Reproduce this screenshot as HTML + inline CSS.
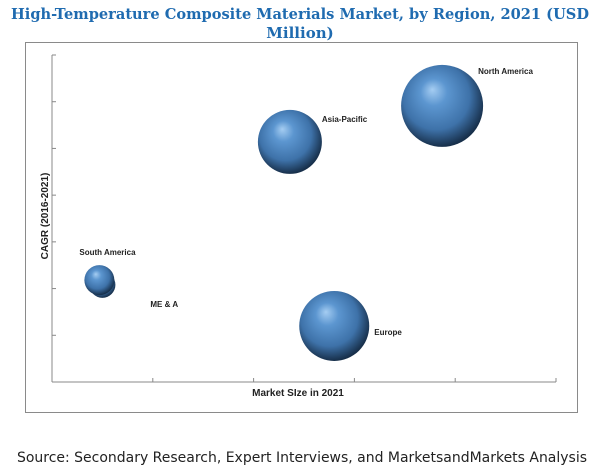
<!DOCTYPE html>
<html><head><meta charset="utf-8"><style>
html,body{margin:0;padding:0;background:#fff;width:600px;height:470px;overflow:hidden}
svg{display:block}
</style></head><body>
<svg width="600" height="470" viewBox="0 0 600 470" xmlns="http://www.w3.org/2000/svg">
<defs>
<radialGradient id="ball" cx="0.45" cy="0.42" r="0.58" fx="0.38" fy="0.3">
<stop offset="0" stop-color="#a5cdf2"/>
<stop offset="0.28" stop-color="#5c96d0"/>
<stop offset="0.7" stop-color="#3e72a9"/>
<stop offset="1" stop-color="#172f4a"/>
</radialGradient>
</defs>
<text x="300" y="19" text-anchor="middle" font-family="'DejaVu Serif',serif" font-weight="bold" font-size="15" fill="#1f6bb0" textLength="578" lengthAdjust="spacingAndGlyphs">High-Temperature Composite Materials Market, by Region, 2021 (USD</text>
<text x="300" y="38" text-anchor="middle" font-family="'DejaVu Serif',serif" font-weight="bold" font-size="15" fill="#1f6bb0">Million)</text>
<rect x="25.5" y="42.5" width="552" height="370" fill="none" stroke="#8a8a8a" stroke-width="1"/>
<g id="axes"></g>
<g id="bubbles"></g>
<text x="298" y="396" text-anchor="middle" font-family="'Liberation Sans',sans-serif" font-weight="bold" font-size="10" fill="#222">Market SIze in 2021</text>
<text transform="translate(48,216) rotate(-90)" text-anchor="middle" font-family="'Liberation Sans',sans-serif" font-weight="bold" font-size="10" fill="#222">CAGR (2016-2021)</text>
<text x="17" y="462" font-family="'DejaVu Sans',sans-serif" font-size="14" fill="#222" textLength="570" lengthAdjust="spacingAndGlyphs">Source: Secondary Research, Expert Interviews, and MarketsandMarkets Analysis</text>
</svg>
<script>
const regions = ["ME & A","South America","Europe","Asia-Pacific","North America"];
const marketSize = [0.50,0.47,2.80,2.36,3.87];
const cagr = [2.08,2.18,1.20,5.14,5.91];
const bubbleSize = [13,15,35,32,41];
const xTicks = [0,1,2,3,4,5];
const yTicks = [0,1,2,3,4,5,6,7];

const NS="http://www.w3.org/2000/svg";
const X0=52,X1=556,Y0=382,Y1=55;
const xs=v=>X0+(v-0)/(5-0)*(X1-X0);
const ys=v=>Y0-(v-0)/(7-0)*(Y0-Y1);
function mk(tag,attrs,parent){const e=document.createElementNS(NS,tag);for(const k in attrs)e.setAttribute(k,attrs[k]);parent.appendChild(e);return e;}
const axes=document.getElementById('axes');
let l=mk('line',{x1:X0,y1:Y0,x2:X1,y2:Y0,stroke:'#888'},axes);


l=mk('line',{x1:X0,y1:Y0,x2:X0,y2:Y1,stroke:'#888'},axes);


xTicks.forEach(t=>{const e=mk('line',{x1:xs(t),y1:Y0,x2:xs(t),y2:Y0-4,stroke:'#888'},axes);

});
yTicks.forEach(t=>{const e=mk('line',{x1:X0,y1:ys(t),x2:X0+4,y2:ys(t),stroke:'#888'},axes);

});
const labelOff={"ME & A":[48,22,'start'],"South America":[-20,-25,'start'],"Europe":[40,9,'start'],"Asia-Pacific":[32,-20,'start'],"North America":[36,-32,'start']};
const g=document.getElementById('bubbles');
regions.forEach((r,i)=>{
  const cx=xs(marketSize[i]),cy=ys(cagr[i]);
  const c=mk('circle',{cx:cx,cy:cy,r:bubbleSize[i],fill:'url(#ball)'},g);
  
  
  const o=labelOff[r];
  const t=mk('text',{x:cx+o[0],y:cy+o[1],'text-anchor':o[2],'font-family':"'Liberation Sans',sans-serif",'font-size':'8','font-weight':'bold',fill:'#222'},g);
  t.textContent=r;
  
  
});
</script>
</body></html>
